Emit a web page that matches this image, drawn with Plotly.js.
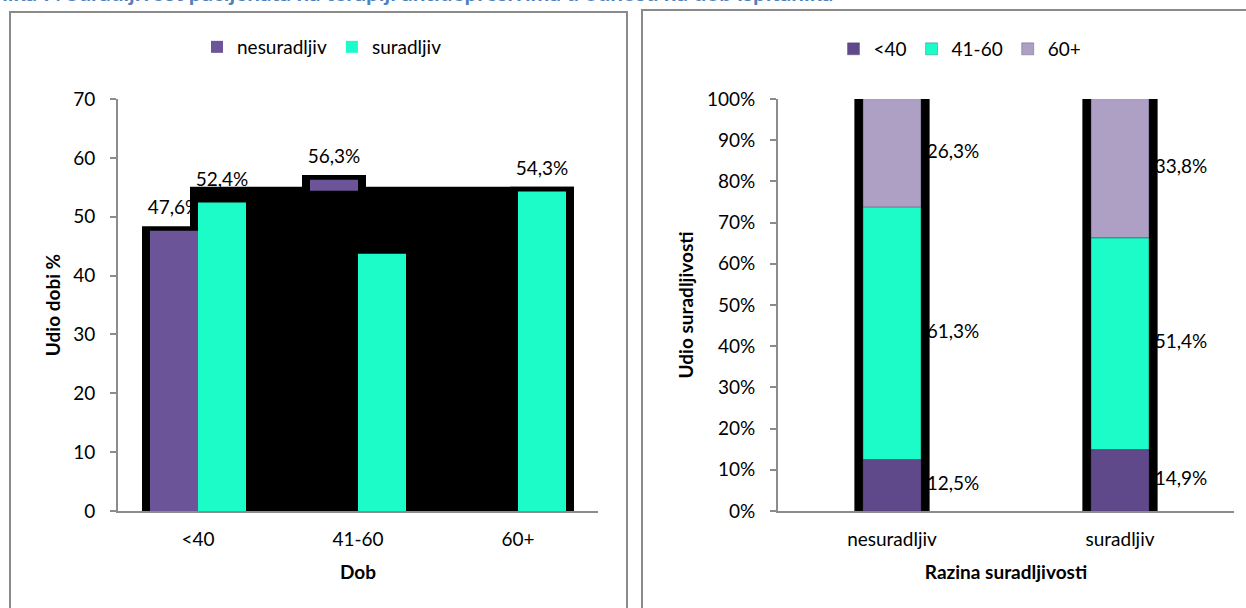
<!DOCTYPE html>
<html><head><meta charset="utf-8">
<script src="https://cdn.plot.ly/plotly-3.0.1.min.js"></script>
<style>html,body{margin:0;padding:0;background:#fff;}#chart{width:1246px;height:608px;}</style>
</head><body><div id="chart"></div>
<script>
// ---- data (left chart: share by age group) ----
const ageGroups = ['<40', '41-60', '60+'];
const nesuradljivPct = [47.6, 56.3, 45.7];
const suradljivPct = [52.4, 43.7, 54.3];

// ---- data (right chart: age composition by compliance level) ----
const complianceLevels = ['nesuradljiv', 'suradljiv'];
const ageUnder40 = [12.5, 14.9];
const age41to60 = [61.3, 51.4];
const age60plus = [26.3, 33.8];

const W = 1246, H = 608;
const FONT = 'Lato, "Open Sans", sans-serif';
const FS = 19;
const px = v => v / W;
const py = v => 1 - v / H;

const C_PURPLE = '#6B5497';
const C_TEAL = '#1CFCC8';
const C_LAV = '#AE9FC5';
const C_PURPLE2 = '#60498A';
const AXIS = '#8C8C8C';

// left chart bar geometry in category units
const BW = 0.3, SDX = 0.05, SDY = 0.8, LABEL_PAD = 1.6, DROP = 0.35;
const nCat = ageGroups.length;
const traces = [];

// value labels (drawn first so the shadow artefact covers them)
[[nesuradljivPct, -BW], [suradljivPct, 0]].forEach(([vals, off]) => {
  traces.push({
    type: 'bar', x: ageGroups, base: vals, y: vals.map(() => LABEL_PAD),
    offset: off, width: BW, customdata: vals,
    texttemplate: '%{customdata:.1f}%', textposition: 'outside', constraintext: 'none',
    textfont: {family: FONT, size: FS, color: '#000'}, cliponaxis: false,
    marker: {color: 'rgba(0,0,0,0)'}, showlegend: false, hoverinfo: 'skip',
    xaxis: 'x', yaxis: 'y'
  });
});
// black shadows
[[nesuradljivPct, -BW - SDX], [suradljivPct, -SDX]].forEach(([vals, off]) => {
  traces.push({
    type: 'bar', x: ageGroups, base: vals.map(() => -DROP), y: vals.map(v => v + SDY + DROP),
    offset: off, width: BW + 2 * SDX, marker: {color: '#000'}, cliponaxis: false,
    showlegend: false, hoverinfo: 'skip', xaxis: 'x', yaxis: 'y'
  });
});
const surMax = Math.max(...suradljivPct);
traces.push({
  type: 'bar', x: [ageGroups[0]], base: [-DROP], y: [surMax + SDY + DROP],
  offset: -SDX, width: (nCat - 1) + BW + 2 * SDX, marker: {color: '#000'}, cliponaxis: false,
  showlegend: false, hoverinfo: 'skip', xaxis: 'x', yaxis: 'y'
});
traces.push({
  type: 'bar', name: 'nesuradljiv', x: ageGroups, y: nesuradljivPct, offset: -BW, width: BW,
  marker: {color: C_PURPLE}, legend: 'legend', xaxis: 'x', yaxis: 'y'
});
traces.push({
  type: 'bar', x: [ageGroups[0]], base: [-DROP], y: [surMax + 0.1 + DROP],
  offset: 0, width: (nCat - 1) + BW + SDX, marker: {color: '#000'}, cliponaxis: false,
  showlegend: false, hoverinfo: 'skip', xaxis: 'x', yaxis: 'y'
});
traces.push({
  type: 'bar', name: 'suradljiv', x: ageGroups, y: suradljivPct, offset: 0, width: BW,
  marker: {color: C_TEAL}, legend: 'legend', xaxis: 'x', yaxis: 'y'
});

// ---- right chart ----
const RBW = 0.254, RSW = 0.33;
const segs = [
  {name: '<40', vals: ageUnder40, color: C_PURPLE2},
  {name: '41-60', vals: age41to60, color: C_TEAL},
  {name: '60+', vals: age60plus, color: C_LAV}
];
let cum = complianceLevels.map(() => 0);
const lblX = [], lblY = [], lblV = [];
segs.forEach(s => {
  s.base = cum.slice();
  s.vals.forEach((v, i) => { lblX.push(complianceLevels[i]); lblY.push(cum[i] + v / 2); lblV.push(v); });
  cum = cum.map((c, i) => c + s.vals[i]);
});
traces.push({
  type: 'scatter', mode: 'markers+text', x: lblX, y: lblY, customdata: lblV,
  texttemplate: '%{customdata:.1f}%', textposition: 'middle right',
  textfont: {family: FONT, size: FS, color: '#000'},
  marker: {size: 54, color: 'rgba(0,0,0,0)'}, cliponaxis: false,
  showlegend: false, hoverinfo: 'skip', xaxis: 'x2', yaxis: 'y2'
});
traces.push({
  type: 'bar', x: complianceLevels, base: complianceLevels.map(() => -0.5), y: cum.map(c => c + 0.5),
  offset: -RSW / 2, width: RSW, marker: {color: '#000'}, cliponaxis: false,
  showlegend: false, hoverinfo: 'skip', xaxis: 'x3', yaxis: 'y3'
});
segs.forEach(s => {
  traces.push({
    type: 'bar', name: s.name, x: complianceLevels, base: s.base, y: s.vals,
    offset: -RBW / 2, width: RBW, marker: {color: s.color, line: {color: 'rgba(60,60,80,0.35)', width: 1}},
    legend: 'legend2', xaxis: 'x3', yaxis: 'y3'
  });
});

const yDom = [py(511), py(99)];
const axBase = {
  showline: true, linecolor: AXIS, linewidth: 2, showgrid: false, zeroline: false,
  tickfont: {family: FONT, size: FS, color: '#000'}, fixedrange: true
};
const titleFont = {family: FONT, size: FS, color: '#000', weight: 'bold'};

const layout = {
  width: W, height: H, margin: {l: 0, r: 0, t: 0, b: 0},
  paper_bgcolor: '#fff', plot_bgcolor: 'rgba(0,0,0,0)',
  barmode: 'overlay', separators: ', ',
  font: {family: FONT, size: FS, color: '#000'},
  xaxis: Object.assign({}, axBase, {
    domain: [px(118), px(598)], anchor: 'y', type: 'category', range: [-0.5, nCat - 0.5],
    ticks: '', ticklabelstandoff: 10,
    title: {text: 'Dob', font: titleFont, standoff: 17}
  }),
  yaxis: Object.assign({}, axBase, {
    domain: yDom, anchor: 'x', range: [0, 70], dtick: 10,
    ticks: 'outside', ticklen: 6, tickwidth: 2, tickcolor: AXIS, ticklabelstandoff: 11,
    title: {text: 'Udio dobi %', font: titleFont, standoff: 8}
  }),
  xaxis2: Object.assign({}, axBase, {
    domain: [px(778), px(1234)], anchor: 'y2', type: 'category', range: [-0.5, 1.5],
    ticks: '', ticklabelstandoff: 10,
    title: {text: 'Razina suradljivosti', font: titleFont, standoff: 17}
  }),
  yaxis2: Object.assign({}, axBase, {
    domain: yDom, anchor: 'x2', range: [0, 100], dtick: 10, ticksuffix: '%',
    ticks: 'outside', ticklen: 6, tickwidth: 2, tickcolor: AXIS, ticklabelstandoff: 11,
    title: {text: 'Udio suradljivosti', font: titleFont, standoff: 8}
  }),
  xaxis3: {overlaying: 'x2', anchor: 'y3', type: 'category', range: [-0.5, 1.5], visible: false, fixedrange: true},
  yaxis3: {overlaying: 'y2', anchor: 'x3', range: [0, 100], visible: false, fixedrange: true},
  legend: {
    orientation: 'h', x: px(322), xanchor: 'center', y: py(47), yanchor: 'middle',
    bgcolor: 'rgba(0,0,0,0)', font: {family: FONT, size: FS, color: '#000'}, traceorder: 'normal'
  },
  legend2: {
    orientation: 'h', x: px(960), xanchor: 'center', y: py(49), yanchor: 'middle',
    bgcolor: 'rgba(0,0,0,0)', font: {family: FONT, size: FS, color: '#000'}, traceorder: 'normal'
  },
  shapes: [
    {type: 'rect', xref: 'paper', yref: 'paper', x0: px(10), x1: px(627), y0: -0.1, y1: py(12),
     line: {color: '#8A8A8A', width: 2}, fillcolor: 'rgba(0,0,0,0)', layer: 'below'},
    {type: 'rect', xref: 'paper', yref: 'paper', x0: px(642), x1: 1.1, y0: -0.1, y1: py(10),
     line: {color: '#8A8A8A', width: 2}, fillcolor: 'rgba(0,0,0,0)', layer: 'below'}
  ],
  annotations: [{
    text: 'Slika 7. Suradljivost pacijenata na terapiji antidepresivima u odnosu na dob ispitanika',
    xref: 'paper', yref: 'paper', x: px(-12), xanchor: 'left', y: py(-7), yanchor: 'middle',
    showarrow: false, font: {family: FONT, size: 22.5, color: '#4F81BD', weight: 'bold'}
  }]
};

Plotly.newPlot('chart', traces, layout, {displayModeBar: false, staticPlot: true});
</script>
</body></html>
